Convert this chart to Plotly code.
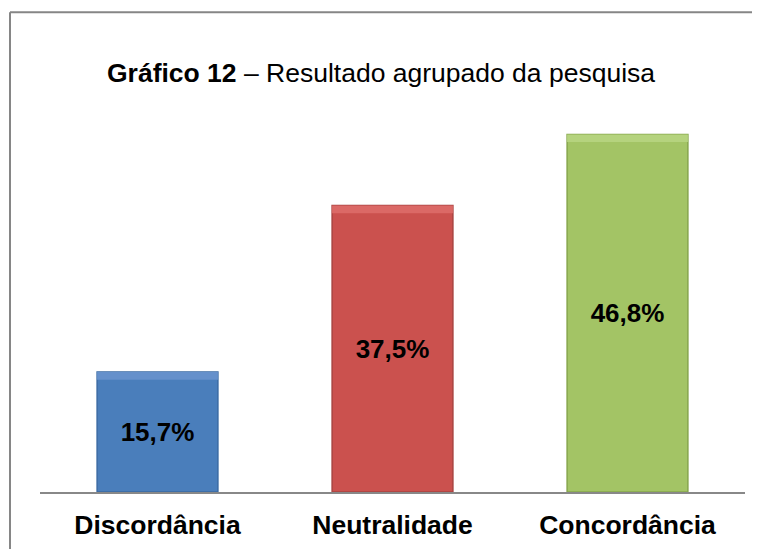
import plotly.graph_objects as go

categories = ["Discordância", "Neutralidade", "Concordância"]
values = [15.7, 37.5, 46.8]
value_labels = ["15,7%", "37,5%", "46,8%"]
colors = ["#4A7EBB", "#CB514E", "#A3C465"]
edge_colors = ["#3A6AA3", "#A94340", "#86A64C"]
bevel_colors = ["#6590CB", "#DB6966", "#B5D37E"]
bevel_depth = 1.0  # lighter top band, in axis units

# page body has an 8px offset; figure coordinates = reference - 8
OFF = 8
W, H = 760, 549
L, T = 40 - OFF, 110 - OFF
R = W - (745 - OFF)
B = H - (492.5 - OFF)

FONT = "Liberation Sans, Arial"

fig = go.Figure()
fig.add_trace(go.Bar(
    x=categories, y=values,
    text=value_labels, textposition="inside", insidetextanchor="middle",
    textfont=dict(family=FONT, size=26, color="black", weight="bold"),
    marker=dict(color=colors, line=dict(color=edge_colors, width=1.5)),
    width=0.514, showlegend=False, hoverinfo="skip",
))
fig.add_trace(go.Bar(
    x=categories, y=[bevel_depth] * len(values),
    base=[v - bevel_depth for v in values],
    marker=dict(color=bevel_colors, line=dict(width=0)),
    width=0.514, showlegend=False, hoverinfo="skip",
))

pw = W - L - R
ph = H - T - B
bx = (10 - OFF - L) / pw
by = (H - B - (12 - OFF)) / ph
fig.add_shape(type="line", xref="paper", yref="paper",
              x0=bx, x1=(W + 20 - L) / pw, y0=by, y1=by,
              line=dict(color="#868686", width=2))
fig.add_shape(type="line", xref="paper", yref="paper",
              x0=bx, x1=bx, y0=by, y1=-(B + 20) / ph,
              line=dict(color="#868686", width=2))

fig.update_layout(
    width=W, height=H,
    margin=dict(l=L, r=R, t=T, b=B),
    paper_bgcolor="white", plot_bgcolor="white",
    barmode="overlay",
    title=dict(text="<b>Gráfico 12</b> – Resultado agrupado da pesquisa",
               x=(381 - OFF) / W, xanchor="center", y=1 - (73 - OFF) / H, yanchor="middle",
               font=dict(family=FONT, size=26.5, color="black")),
    xaxis=dict(showline=True, linecolor="#888888", linewidth=1.5,
               showgrid=False, ticks="", zeroline=False,
               tickfont=dict(family=FONT, size=26.5, color="black", weight="bold"),
               ticklabelstandoff=8),
    yaxis=dict(range=[0, 50], visible=False, showgrid=False, zeroline=False),
)

fig.write_html("out.html")
